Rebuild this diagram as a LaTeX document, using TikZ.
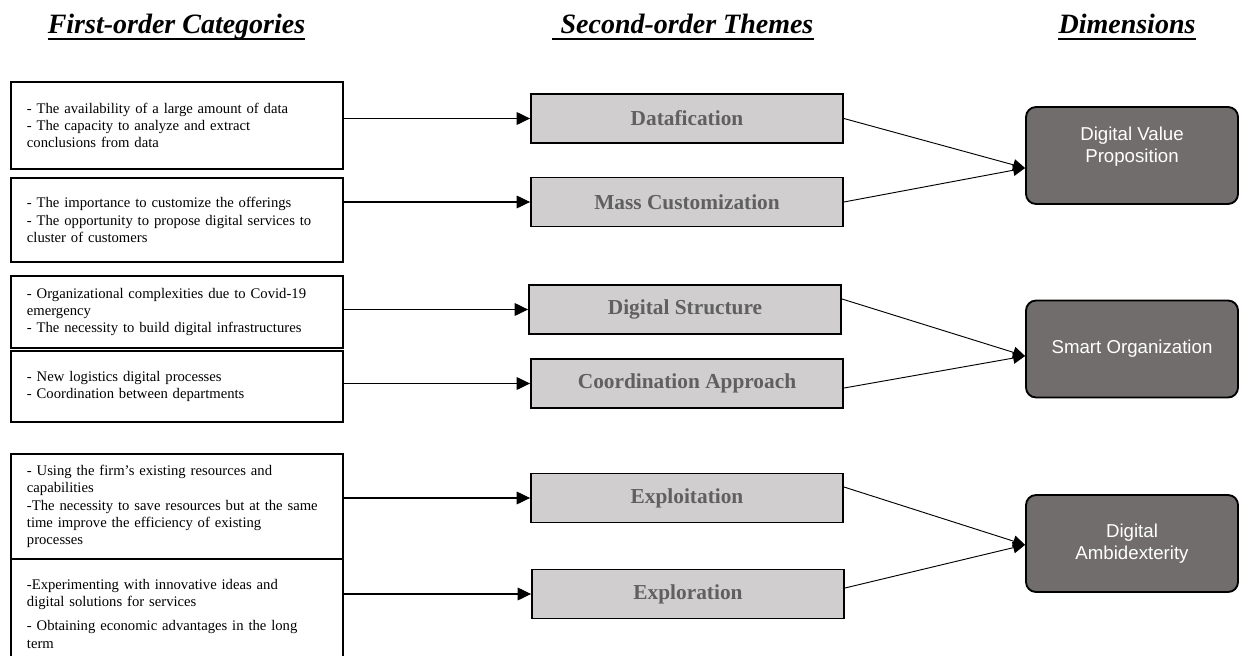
\documentclass[tikz,border=0pt]{standalone}
\usepackage{fontspec}
\setmainfont{Liberation Serif}
\newfontfamily\arialfont{Liberation Sans}
\usetikzlibrary{arrows.meta,positioning,calc}

\definecolor{themegray}{RGB}{208,206,207}
\definecolor{themetext}{RGB}{96,96,96}
\definecolor{dimgray}{RGB}{113,109,109}

\tikzset{
  heading/.style={font=\fontsize{21}{25}\selectfont\bfseries\itshape, inner sep=0pt, anchor=base},
  uline/.style={line width=1.5pt},
  catbox/.style={rectangle, draw, line width=1.4pt, anchor=north west, minimum width=249pt, text width=225pt, inner xsep=12pt, align=left, font=\fontsize{11}{13}\selectfont},
  themebox/.style={rectangle, draw, line width=1.4pt, fill=themegray, minimum width=234pt, minimum height=36.75pt, font=\fontsize{16}{19}\selectfont\bfseries, text=themetext},
  dimbox/.style={rectangle, rounded corners=7.5pt, draw, line width=1.4pt, fill=dimgray, minimum width=159pt, minimum height=72.75pt, text=white, align=center, font=\arialfont\fontsize{14}{16.5}\selectfont},
  dimtext/.style={text=white, align=center, font=\arialfont\fontsize{14}{16.5}\selectfont},
  link/.style={-{Triangle[length=10pt,width=9.5pt]}, line width=0.8pt},
  feed/.style={-{Triangle[length=9pt,width=8.5pt]}, line width=0.7pt}
}

\begin{document}
\begin{tikzpicture}[x=0.75pt, y=-0.75pt]
    \path[use as bounding box, clip] (0,0) rectangle (1239,656);

    \node[heading] (firsthead) at (176.5,34) {First-order Categories};
    \node[heading] (secondhead) at (687,34) {Second-order Themes};
    \node[heading] (dimhead) at (1127,34) {Dimensions};
    \draw[uline] ([yshift=-4pt]firsthead.base west) -- ([yshift=-4pt]firsthead.base east);
    \draw[uline] ([yshift=-4pt,xshift=-6pt]secondhead.base west) -- ([yshift=-4pt]secondhead.base east);
    \draw[uline] ([yshift=-4pt]dimhead.base west) -- ([yshift=-4pt]dimhead.base east);

    \node[catbox, minimum height=65.25pt] (cat1) at (10,81) {- The availability of a large amount of data\\- The capacity to analyze and extract\\conclusions from data};
    \node[catbox, minimum height=63pt] (cat2) at (10,177) {- The importance to customize the offerings\\- The opportunity to propose digital services to\\cluster of customers};
    \node[catbox, minimum height=54pt] (cat3) at (10,275) {- Organizational complexities due to Covid-19\\emergency\\- The necessity to build digital infrastructures};
    \node[catbox, minimum height=53.25pt] (cat4) at (10,350) {- New logistics digital processes\\- Coordination between departments};
    \node[catbox, minimum height=78.75pt] (cat5) at (10,453) {- Using the firm’s existing resources and\\capabilities\\-The necessity to save resources but at the same\\time improve the efficiency of existing\\processes};
    \node[catbox, minimum height=82.5pt] (cat6) at (10,558) {-Experimenting with innovative ideas and\\digital solutions for services\\[5pt]- Obtaining economic advantages in the long\\term};

    \node[themebox] (datafication) at (687,118.5) {Datafication};
    \node[themebox] (masscust) at (687,202) {Mass Customization};
    \node[themebox] (digstruct) at (685,309.5) {Digital Structure};
    \node[themebox] (coordination) at (687,383.5) {Coordination Approach};
    \node[themebox] (exploitation) at (687,498) {Exploitation};
    \node[themebox] (exploration) at (688,594) {Exploration};

    \node[dimbox, label={[dimtext, yshift=6.4pt]center:{Digital Value\\Proposition}}] (dvp) at (1132,155.5) {};
    \node[dimbox] (smartorg) at (1132,349) {Smart Organization};
    \node[dimbox] (ambidex) at (1132,543.5) {Digital\\Ambidexterity};

    \draw[link] (cat1.east |- datafication.west) -- (datafication.west);
    \draw[link] (cat2.east |- masscust.west) -- (masscust.west);
    \draw[link] (cat3.east |- digstruct.west) -- (digstruct.west);
    \draw[link] (cat4.east |- coordination.west) -- (coordination.west);
    \draw[link] (cat5.east |- exploitation.west) -- (exploitation.west);
    \draw[link] (cat6.east |- exploration.west) -- (exploration.west);

    \coordinate (dvpin) at ([yshift=-9.4pt]dvp.west);
    \coordinate (smartin) at ([yshift=-5.25pt]smartorg.west);
    \coordinate (ambin) at ([yshift=-1pt]ambidex.west);
    \draw[feed] (datafication.east) -- (dvpin);
    \draw[feed] (masscust.east) -- (dvpin);
    \draw[feed] ([yshift=7.9pt]digstruct.east) -- (smartin);
    \draw[feed] ([yshift=-3.4pt]coordination.east) -- (smartin);
    \draw[feed] ([yshift=8.25pt]exploitation.east) -- (ambin);
    \draw[feed] ([yshift=4.5pt]exploration.east) -- (ambin);
\end{tikzpicture}
\end{document}
